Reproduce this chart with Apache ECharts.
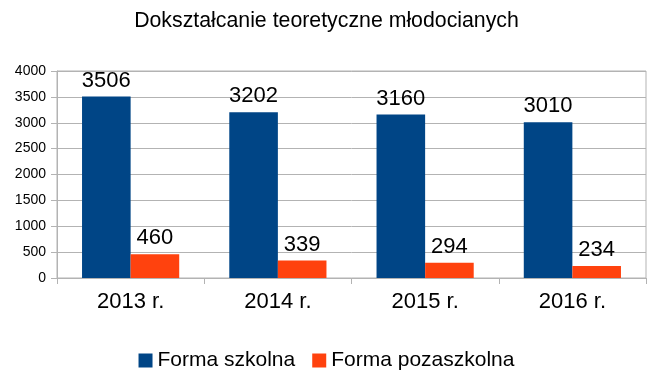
<!DOCTYPE html>
<html><head><meta charset="utf-8">
<script src="https://cdn.jsdelivr.net/npm/echarts@6/dist/echarts.min.js"></script>
<style>html,body{margin:0;padding:0;background:#fff}#c{width:653px;height:381px}</style>
</head><body><div id="c"></div>
<script>
const categories = ['2013 r.', '2014 r.', '2015 r.', '2016 r.'];
const szkolna = [3506, 3202, 3160, 3010];
const pozaszkolna = [460, 339, 294, 234];
const seriesNames = ['Forma szkolna', 'Forma pozaszkolna'];
const yTicks = { min: 0, max: 4000, interval: 500 };

const font = '"Liberation Sans", Arial, sans-serif';
const chart = echarts.init(document.getElementById('c'));
const lbl = { show: true, position: 'top', distance: 5, color: '#000', fontSize: 22, fontFamily: font };
chart.setOption({
  animation: false,
  title: { text: 'Dokształcanie teoretyczne młodocianych', left: 'center', top: 6,
    textStyle: { fontSize: 21.3, fontWeight: 'normal', color: '#000', fontFamily: font } },
  legend: { bottom: 5, left: 'center', itemWidth: 14, itemHeight: 14, itemGap: 17,
    icon: 'rect', textStyle: { fontSize: 21, color: '#000', fontFamily: font },
    data: seriesNames },
  grid: { left: 57, right: 7, top: 71, bottom: 103, containLabel: false, show: true, borderColor: '#b3b3b3', borderWidth: 1 },
  xAxis: { type: 'category', data: categories,
    axisLine: { lineStyle: { color: '#b3b3b3' } },
    axisTick: { show: true, length: 6, lineStyle: { color: '#b3b3b3' } },
    axisLabel: { fontSize: 22, color: '#000', fontFamily: font, margin: 13 } },
  yAxis: { type: 'value', min: yTicks.min, max: yTicks.max, interval: yTicks.interval,
    axisLine: { show: true, lineStyle: { color: '#b3b3b3' } },
    axisTick: { show: true, length: 6, lineStyle: { color: '#b3b3b3' } },
    splitLine: { lineStyle: { color: '#b3b3b3' } },
    axisLabel: { fontSize: 14, color: '#000', fontFamily: font, margin: 11, formatter: v => String(v) } },
  series: [
    { name: seriesNames[0], type: 'bar', data: szkolna, itemStyle: { color: '#004586' },
      barGap: '0%', barCategoryGap: '34%', label: lbl },
    { name: seriesNames[1], type: 'bar', data: pozaszkolna, itemStyle: { color: '#ff420e' },
      barGap: '0%', barCategoryGap: '34%', label: lbl }
  ]
});
</script></body></html>
